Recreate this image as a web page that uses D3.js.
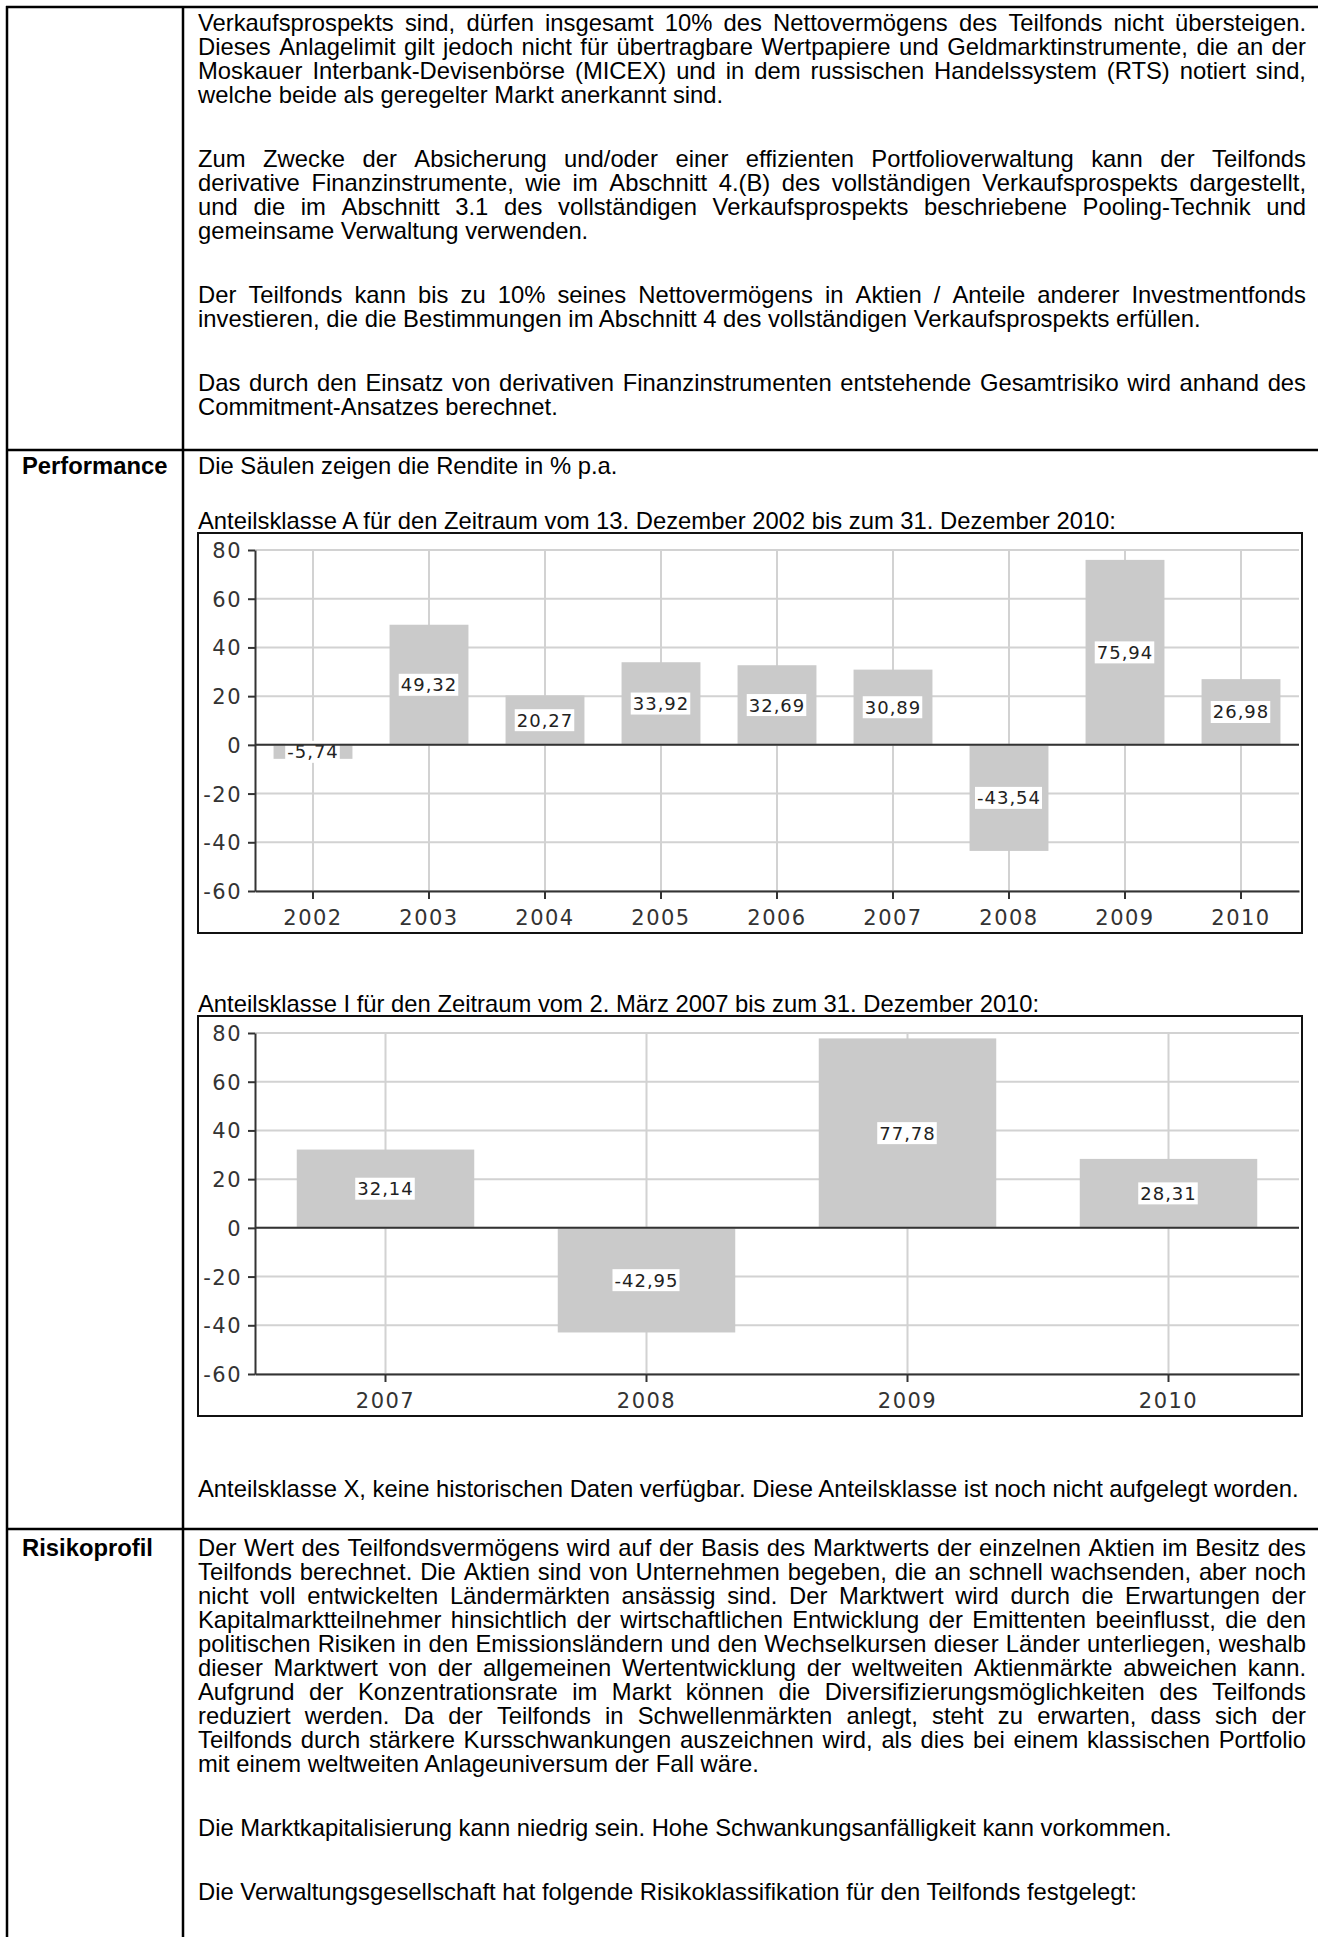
<!DOCTYPE html>
<html><head><meta charset="utf-8">
<script src="https://cdn.jsdelivr.net/npm/d3@7"></script>
<style>
html,body{margin:0;padding:0;background:#fff;}
svg{display:block;}
.body-text{font-family:'Liberation Sans', Arial, Arimo, Helvetica, sans-serif;}
.chart-text{font-family:'DejaVu Sans', Verdana, sans-serif;}
</style></head><body>
<svg id="page" width="1318" height="1937"></svg>
<script>
// ---------- data ----------
const yearsA = ["2002","2003","2004","2005","2006","2007","2008","2009","2010"];
const valuesA = [-5.74, 49.32, 20.27, 33.92, 32.69, 30.89, -43.54, 75.94, 26.98];
const yearsI = ["2007","2008","2009","2010"];
const valuesI = [32.14, -42.95, 77.78, 28.31];
const yTicks = [80, 60, 40, 20, 0, -20, -40, -60];

const introLines = [
  "Verkaufsprospekts sind, dürfen insgesamt 10% des Nettovermögens des Teilfonds nicht übersteigen.",
  "Dieses Anlagelimit gilt jedoch nicht für übertragbare Wertpapiere und Geldmarktinstrumente, die an der",
  "Moskauer Interbank-Devisenbörse (MICEX) und in dem russischen Handelssystem (RTS) notiert sind,",
  "welche beide als geregelter Markt anerkannt sind.",
  "",
  "Zum Zwecke der Absicherung und/oder einer effizienten Portfolioverwaltung kann der Teilfonds",
  "derivative Finanzinstrumente, wie im Abschnitt 4.(B) des vollständigen Verkaufsprospekts dargestellt,",
  "und die im Abschnitt 3.1 des vollständigen Verkaufsprospekts beschriebene Pooling-Technik und",
  "gemeinsame Verwaltung verwenden.",
  "",
  "Der Teilfonds kann bis zu 10% seines Nettovermögens in Aktien / Anteile anderer Investmentfonds",
  "investieren, die die Bestimmungen im Abschnitt 4 des vollständigen Verkaufsprospekts erfüllen.",
  "",
  "Das durch den Einsatz von derivativen Finanzinstrumenten entstehende Gesamtrisiko wird anhand des",
  "Commitment-Ansatzes berechnet."
];
const perfLabel = "Performance";
const perfIntro = "Die Säulen zeigen die Rendite in % p.a.";
const titleA = "Anteilsklasse A für den Zeitraum vom 13. Dezember 2002 bis zum 31. Dezember 2010:";
const titleI = "Anteilsklasse I für den Zeitraum vom 2. März 2007 bis zum 31. Dezember 2010:";
const noteX = "Anteilsklasse X, keine historischen Daten verfügbar. Diese Anteilsklasse ist noch nicht aufgelegt worden.";
const riskLabel = "Risikoprofil";
const riskLines = [
  "Der Wert des Teilfondsvermögens wird auf der Basis des Marktwerts der einzelnen Aktien im Besitz des",
  "Teilfonds berechnet. Die Aktien sind von Unternehmen begeben, die an schnell wachsenden, aber noch",
  "nicht voll entwickelten Ländermärkten ansässig sind. Der Marktwert wird durch die Erwartungen der",
  "Kapitalmarktteilnehmer hinsichtlich der wirtschaftlichen Entwicklung der Emittenten beeinflusst, die den",
  "politischen Risiken in den Emissionsländern und den Wechselkursen dieser Länder unterliegen, weshalb",
  "dieser Marktwert von der allgemeinen Wertentwicklung der weltweiten Aktienmärkte abweichen kann.",
  "Aufgrund der Konzentrationsrate im Markt können die Diversifizierungsmöglichkeiten des Teilfonds",
  "reduziert werden. Da der Teilfonds in Schwellenmärkten anlegt, steht zu erwarten, dass sich der",
  "Teilfonds durch stärkere Kursschwankungen auszeichnen wird, als dies bei einem klassischen Portfolio",
  "mit einem weltweiten Anlageuniversum der Fall wäre.",
  "",
  "Die Marktkapitalisierung kann niedrig sein. Hohe Schwankungsanfälligkeit kann vorkommen.",
  "",
  "Die Verwaltungsgesellschaft hat folgende Risikoklassifikation für den Teilfonds festgelegt:"
];

// ---------- layout ----------
const W = 1318, H = 1937;
const FS = 23.8, VSCALE = 1.0;
const TX = 198, TW = 1108;
const LS = 24, PG = 64;
const svg = d3.select("#page");

const ctx = document.createElement("canvas").getContext("2d");

function line(text, xPos, center, opts = {}) {
  const base = center + 8.5;
  const g = svg.append("g").attr("transform", `translate(0,${base}) scale(1,${VSCALE})`);
  const t = g.append("text").attr("class", "body-text").attr("y", 0)
    .attr("font-size", FS)
    .attr("font-weight", opts.bold ? "bold" : "normal").attr("fill", "#000");
  if (!opts.justify) { t.attr("x", xPos).text(text); return; }
  ctx.font = `${FS}px 'Liberation Sans', Arial, Arimo, Helvetica, sans-serif`;
  const words = text.split(" ");
  const ws = words.map(w => ctx.measureText(w).width);
  const gap = (TW - d3.sum(ws)) / (words.length - 1);
  if (gap < 3) {
    t.attr("x", xPos).attr("textLength", TW).attr("lengthAdjust", "spacingAndGlyphs").text(text);
    return;
  }
  let xx = xPos;
  words.forEach((w, k) => { t.append("tspan").attr("x", xx).text(w); xx += ws[k] + gap; });
}

function block(lines, firstCenter) {
  let y = firstCenter, started = false, pendingGap = false;
  lines.forEach((s, i) => {
    if (s === "") { pendingGap = true; return; }
    if (started) y += pendingGap ? PG : LS;
    started = true; pendingGap = false;
    const justify = i < lines.length - 1 && lines[i + 1] !== "";
    line(s, TX, y, { justify });
  });
}

// table frame
const frame = svg.append("g").attr("stroke", "#000").attr("stroke-width", 2.5);
frame.append("line").attr("x1", 6).attr("x2", W).attr("y1", 7).attr("y2", 7);
frame.append("line").attr("x1", 7).attr("x2", 7).attr("y1", 6).attr("y2", H);
frame.append("line").attr("x1", 183).attr("x2", 183).attr("y1", 6).attr("y2", H);
frame.append("line").attr("x1", 6).attr("x2", W).attr("y1", 450).attr("y2", 450);
frame.append("line").attr("x1", 6).attr("x2", W).attr("y1", 1529).attr("y2", 1529);

// text blocks
block(introLines, 22);
line(perfLabel, 22, 465, { bold: true });
line(perfIntro, TX, 465);
line(titleA, TX, 520);
line(titleI, TX, 1003);
line(noteX, TX, 1488);
line(riskLabel, 22, 1547, { bold: true });
block(riskLines, 1547);

// ---------- charts ----------
const fmt = d => d.toFixed(2).replace(".", ",");

function drawChart(cats, vals, top) {
  const B = { x: 198, y: top, w: 1104, h: 400 };
  const P = { l: 255, r: 1299, t: top + 17, b: top + 358 };
  const x = d3.scaleBand().domain(cats).range([P.l, P.r]).paddingInner(0.32).paddingOuter(0.16);
  const y = d3.scaleLinear().domain([d3.min(yTicks), d3.max(yTicks)]).range([P.b, P.t]);
  const g = svg.append("g");
  const cx = d => x(d) + x.bandwidth() / 2;

  // grid
  g.append("g").selectAll("line").data(yTicks).join("line")
    .attr("x1", P.l).attr("x2", P.r).attr("y1", d => y(d)).attr("y2", d => y(d))
    .attr("stroke", "#d2d2d2").attr("stroke-width", 2);
  g.append("g").selectAll("line").data(cats).join("line")
    .attr("x1", cx).attr("x2", cx).attr("y1", P.t).attr("y2", P.b)
    .attr("stroke", "#d2d2d2").attr("stroke-width", 2);

  // bars
  g.append("g").selectAll("rect").data(vals).join("rect")
    .attr("x", (d, i) => x(cats[i])).attr("width", x.bandwidth())
    .attr("y", d => y(Math.max(0, d))).attr("height", d => Math.abs(y(d) - y(0)))
    .attr("fill", "#cacaca");

  // value labels
  const lab = g.append("g").selectAll("g").data(vals).join("g")
    .attr("transform", (d, i) => `translate(${cx(cats[i])},${y(d / 2)})`);
  const rects = lab.append("rect").attr("fill", "#fff");
  const texts = lab.append("text").attr("class", "chart-text").attr("text-anchor", "middle").attr("dy", "0.36em")
    .attr("font-size", 18).attr("letter-spacing", 1)
    .attr("fill", "#222").text(fmt);
  texts.each(function (d, i) {
    const bb = this.getBBox();
    d3.select(rects.nodes()[i]).attr("x", bb.x - 2).attr("width", bb.width + 3)
      .attr("y", -11).attr("height", 22);
  });

  // axes
  const ya = g.append("g").attr("transform", `translate(${P.l},0)`)
    .call(d3.axisLeft(y).tickValues(yTicks).tickSize(7).tickSizeOuter(0).tickPadding(6).tickFormat(d => String(d)));
  const xa = g.append("g").attr("transform", `translate(0,${P.b})`)
    .call(d3.axisBottom(x).tickSize(8).tickSizeOuter(0).tickPadding(10));
  [ya, xa].forEach(a => {
    a.attr("font-family", null);
    a.selectAll("path,line").attr("stroke", "#333").attr("stroke-width", 2);
    a.selectAll("text").attr("class", "chart-text").attr("font-size", 21)
      .attr("letter-spacing", 1.5).attr("fill", "#333");
  });
  ya.selectAll("text").attr("dy", "0.36em");
  xa.selectAll("text").attr("y", 34).attr("dy", 0);

  // zero line
  g.append("line").attr("x1", P.l).attr("x2", P.r).attr("y1", y(0)).attr("y2", y(0))
    .attr("stroke", "#333").attr("stroke-width", 2);
  // frame box
  g.append("rect").attr("x", B.x).attr("y", B.y).attr("width", B.w).attr("height", B.h)
    .attr("fill", "none").attr("stroke", "#111").attr("stroke-width", 2);
}

drawChart(yearsA, valuesA, 533);
drawChart(yearsI, valuesI, 1016);
</script>
</body></html>
